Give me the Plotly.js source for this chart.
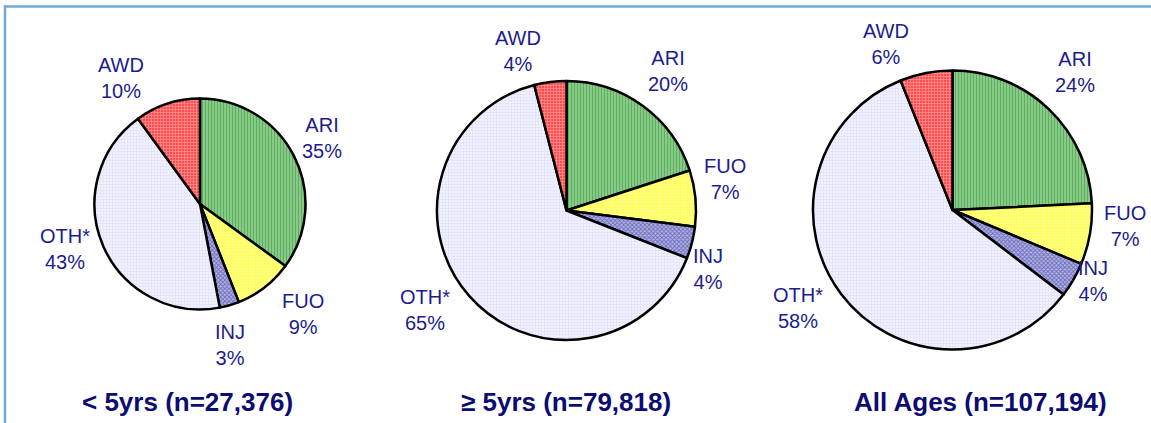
<!DOCTYPE html>
<html>
<head>
<meta charset="utf-8">
<script src="https://cdn.plot.ly/plotly-3.0.1.min.js"></script>
<style>html,body{margin:0;padding:0;background:#fff;}#chart{width:1151px;height:423px;}</style>
</head>
<body>
<div id="chart"></div>
<script>
// ---- data ----
const categories = ["ARI", "FUO", "INJ", "OTH*", "AWD"];
const under5 = [35, 9, 3, 43, 10];
const over5 = [20, 7, 4, 65, 4];
const allAges = [24, 7, 4, 58, 6];
const groupTitles = ["< 5yrs (n=27,376)", "\u2265 5yrs (n=79,818)", "All Ages (n=107,194)"];

// ---- styles ----
const W = 1151, H = 423;
const bgColors = ["#8fd08f", "#ffff55", "#b4b4e6", "#f2f2ff", "#ff4b4b"];
const fgColors = ["#2f8a2f", "#ffffd0", "#22228f", "#d4d4f4", "#ffd6d6"];
const shapes = ["|", "+", "x", "+", "+"];
const solid = [0.45, 0.45, 0.5, 0.45, 0.45];
const labelColor = "#1c1c8e";
const titleColor = "#0c0c72";

// pie geometry in pixels: [cx, cy, r]
const pieGeom = [[200, 204, 105.5], [566.5, 210.5, 129.5], [952.5, 210, 139.5]];
// label centres in pixels, per pie, per category
const labelPos = [
  [[322, 138], [303, 314], [230, 345], [65, 249], [121, 78]],
  [[668, 71], [725, 179], [708, 269], [425, 310], [518, 51]],
  [[1075, 72], [1125, 226], [1093, 281], [798, 308], [886, 44]]
];
const titlePos = [[187.5, 402], [566, 402], [980, 402]];

const series = [under5, over5, allAges];
const traces = series.map((vals, i) => {
  const [cx, cy, r] = pieGeom[i];
  return {
    type: "pie",
    labels: categories,
    values: vals,
    sort: false,
    direction: "clockwise",
    rotation: 0,
    textinfo: "none",
    hoverinfo: "label+value",
    showlegend: false,
    domain: {
      x: [(cx - r) / W, (cx + r) / W],
      y: [1 - (cy + r) / H, 1 - (cy - r) / H]
    },
    marker: {
      colors: bgColors,
      line: {color: "#000000", width: 2.5},
      pattern: {
        shape: shapes,
        bgcolor: bgColors,
        fgcolor: fgColors,
        size: 3,
        solidity: solid,
        fillmode: "overlay"
      }
    }
  };
});

const annotations = [];
series.forEach((vals, i) => {
  vals.forEach((v, j) => {
    const [px, py] = labelPos[i][j];
    annotations.push({
      xref: "paper", yref: "paper",
      x: px / W, y: 1 - py / H,
      xanchor: "center", yanchor: "middle",
      showarrow: false,
      text: categories[j] + "<br>" + v + "%",
      font: {family: "Liberation Sans, Arial, sans-serif", size: 20, color: labelColor}
    });
  });
  const [tx, ty] = titlePos[i];
  annotations.push({
    xref: "paper", yref: "paper",
    x: tx / W, y: 1 - ty / H,
    xanchor: "center", yanchor: "middle",
    showarrow: false,
    text: "<b>" + groupTitles[i] + "</b>",
    font: {family: "Liberation Sans, Arial, sans-serif", size: 26, color: titleColor}
  });
});

const layout = {
  width: W, height: H,
  margin: {l: 0, r: 0, t: 0, b: 0},
  paper_bgcolor: "#ffffff",
  plot_bgcolor: "#ffffff",
  annotations: annotations,
  shapes: [
    {type: "line", xref: "paper", yref: "paper", x0: 4 / W, x1: 1, y0: 1 - 6.5 / H, y1: 1 - 6.5 / H,
     line: {color: "#70a8d8", width: 2.5}},
    {type: "line", xref: "paper", yref: "paper", x0: 5 / W, x1: 5 / W, y0: 0, y1: 1 - 5.5 / H,
     line: {color: "#70a8d8", width: 2.5}}
  ]
};

Plotly.newPlot("chart", traces, layout, {displayModeBar: false, staticPlot: true});
</script>
</body>
</html>
